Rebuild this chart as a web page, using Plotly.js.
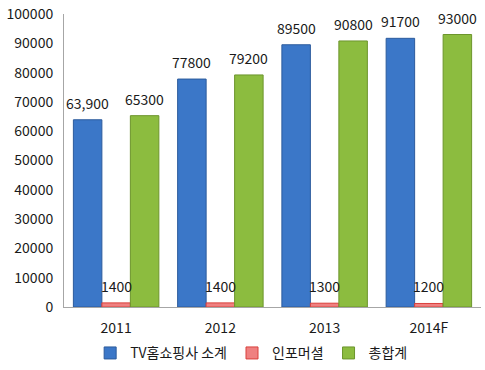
<!DOCTYPE html>
<html><head><meta charset="utf-8">
<script src="https://cdn.plot.ly/plotly-3.0.1.min.js"></script>
<style>html,body{margin:0;padding:0;background:#fff;}#chart{width:485px;height:370px;}</style>
</head><body><div id="chart"></div>
<script>
const categories = ['2011', '2012', '2013', '2014F'];
const seriesNames = ['TV홈쇼핑사 소계', '인포머셜', '총합계'];
const tvHomeShopping = [63900, 77800, 89500, 91700];
const infomercial = [1400, 1400, 1300, 1200];
const total = [65300, 79200, 90800, 93000];
const tvLabels = ['63,900', '77800', '89500', '91700'];
const infoLabels = ['1400', '1400', '1300', '1200'];
const totalLabels = ['65300', '79200', '90800', '93000'];
const yTicks = [0, 10000, 20000, 30000, 40000, 50000, 60000, 70000, 80000, 90000, 100000];

const font = 'Noto Sans CJK KR, DejaVu Sans, sans-serif';
const W = 485, H = 370, ML = 64, MR = 4, MT = 14, MB = 63;
const bargap = 0.18;
function bar(name, y, color, line) {
  return {type: 'bar', name: name, x: categories, y: y,
    marker: {color: color, line: {color: line, width: 1}}};
}
const data = [
  bar(seriesNames[0], tvHomeShopping, '#3b77c8', '#2c5b9c'),
  bar(seriesNames[1], infomercial, '#ef8080', '#d9403c'),
  bar(seriesNames[2], total, '#8cbc3f', '#6c952c')
];
// value labels placed above each bar through the axes (category index on x)
const catWidth = (W - ML - MR) / categories.length;
const barWidth = catWidth * (1 - bargap) / 3;
const seriesVals = [tvHomeShopping, infomercial, total];
const seriesLabels = [tvLabels, infoLabels, totalLabels];
const annotations = [];
seriesVals.forEach((vals, s) => {
  vals.forEach((v, i) => {
    annotations.push({x: i, y: v, xref: 'x', yref: 'y', text: seriesLabels[s][i],
      showarrow: false, xshift: (s - 1) * barWidth, yshift: 5, yanchor: 'bottom', xanchor: 'center',
      font: {family: font, size: 14, color: '#1a1a1a'}});
  });
});
const layout = {
  width: W, height: H,
  margin: {l: ML, r: MR, t: MT, b: MB},
  paper_bgcolor: '#fff', plot_bgcolor: '#fff',
  barmode: 'group', bargap: bargap, bargroupgap: 0,
  font: {family: font, size: 14, color: '#1a1a1a'},
  showlegend: true,
  annotations: annotations,
  legend: {orientation: 'h', x: 0.45, xanchor: 'center', yref: 'container', y: 0.045, yanchor: 'middle',
    font: {family: font, size: 14, color: '#1a1a1a'}, itemwidth: 30, traceorder: 'normal'},
  xaxis: {type: 'category', range: [-0.5, categories.length - 0.5], showline: true, linecolor: '#a6a6a6', linewidth: 1, ticks: '', showgrid: false,
    tickfont: {family: font, size: 14}, zeroline: false, ticklabelstandoff: 8},
  yaxis: {range: [0, 100000], tickvals: yTicks, ticktext: yTicks.map(String),
    showline: true, linecolor: '#a6a6a6', linewidth: 1, ticks: '', showgrid: false,
    zeroline: false, tickfont: {family: font, size: 14}, ticklabelstandoff: 7}
};
Plotly.newPlot('chart', data, layout, {displayModeBar: false, staticPlot: true});
</script></body></html>
